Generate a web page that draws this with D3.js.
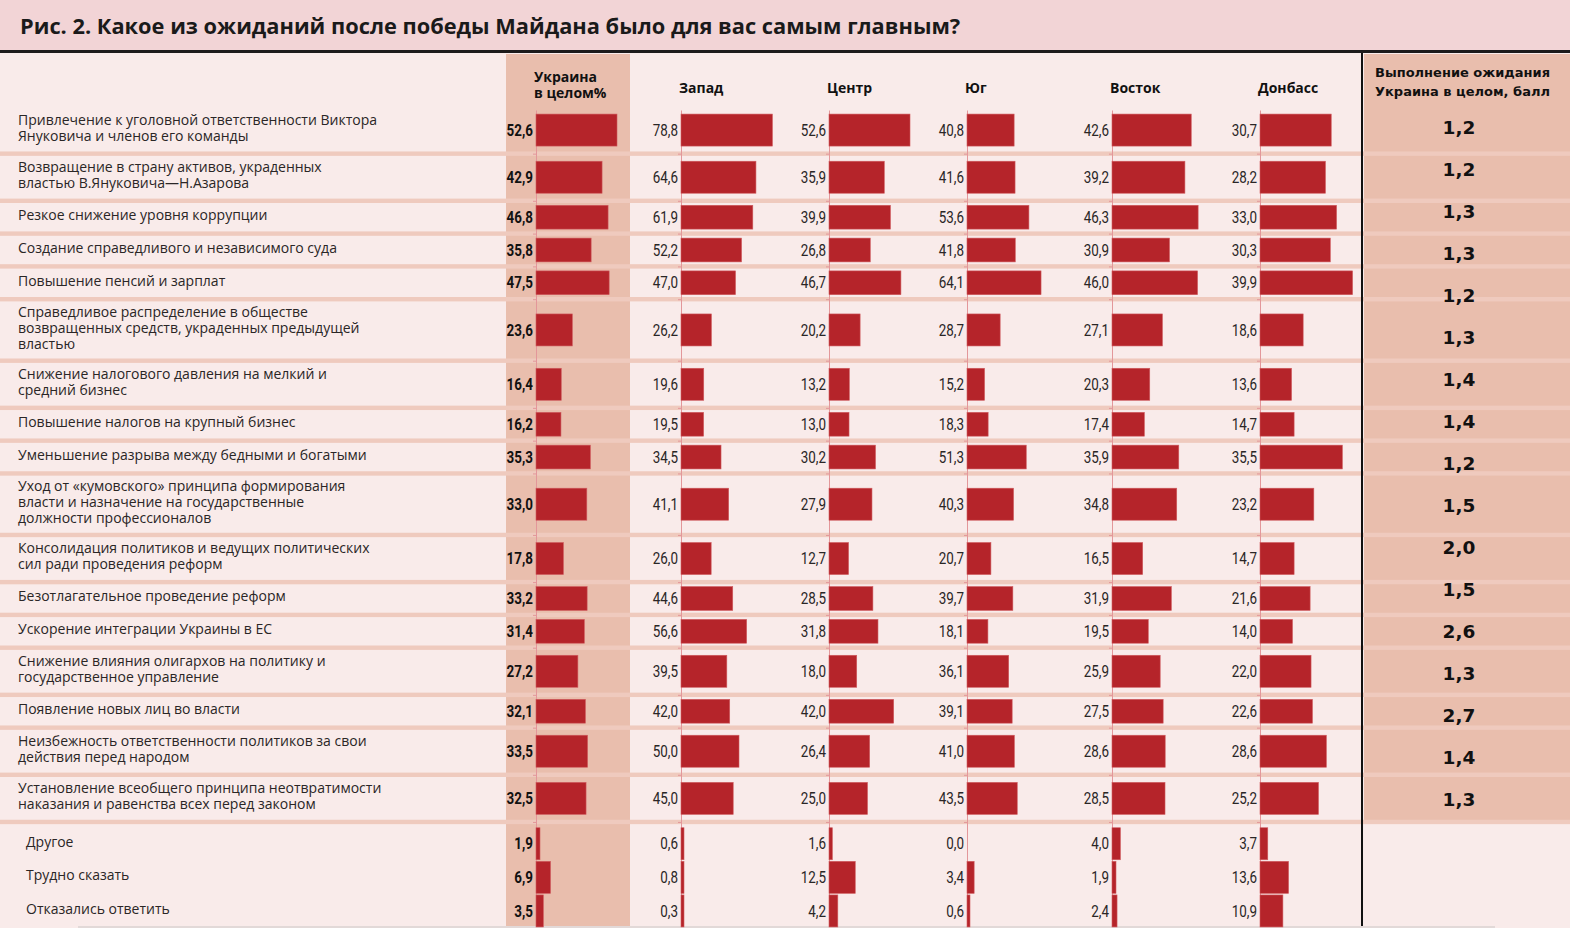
<!DOCTYPE html>
<html>
<head>
<meta charset="utf-8">
<script src="https://cdn.jsdelivr.net/npm/d3@7"></script>
<style>
  html, body { margin:0; padding:0; background:#f9ebea; }
  svg { display:block; }
  .title { font-family:"Open Sans", sans-serif; font-weight:700; font-size:21.8px; fill:#1a1a1a; }
  .lbl { font-family:"Open Sans", sans-serif; font-size:14px; fill:#2a2626; }
  .num { font-family:Roboto, "DejaVu Sans Condensed", sans-serif; font-size:16px; fill:#2a2626; }
  .num.bold { font-weight:700; fill:#111; }
  .head { font-family:"Open Sans", sans-serif; font-weight:700; font-size:14px; fill:#111; }
  .rhead { font-family:"DejaVu Sans", sans-serif; font-weight:700; font-size:13px; fill:#111; }
  .score { font-family:"DejaVu Sans", sans-serif; font-weight:700; font-size:18.5px; fill:#111; }
  .zero path { stroke:#e3979a; }
  .zero line { stroke:#e3979a; }
</style>
</head>
<body>
<div id="chart"></div>
<script>

var title = "Рис. 2. Какое из ожиданий после победы Майдана было для вас самым главным?";

// answers, one entry per row, split into the lines as printed
var answers = [
  ["Привлечение к уголовной ответственности Виктора", "Януковича и членов его команды"],
  ["Возвращение в страну активов, украденных", "властью В.Януковича—Н.Азарова"],
  ["Резкое снижение уровня коррупции"],
  ["Создание справедливого и независимого суда"],
  ["Повышение пенсий и зарплат"],
  ["Справедливое распределение в обществе", "возвращенных средств, украденных предыдущей", "властью"],
  ["Снижение налогового давления на мелкий и", "средний бизнес"],
  ["Повышение налогов на крупный бизнес"],
  ["Уменьшение разрыва между бедными и богатыми"],
  ["Уход от «кумовского» принципа формирования", "власти и назначение на государственные", "должности профессионалов"],
  ["Консолидация политиков и ведущих политических", "сил ради проведения реформ"],
  ["Безотлагательное проведение реформ"],
  ["Ускорение интеграции Украины в ЕС"],
  ["Снижение влияния олигархов на политику и", "государственное управление"],
  ["Появление новых лиц во власти"],
  ["Неизбежность ответственности политиков за свои", "действия перед народом"],
  ["Установление всеобщего принципа неотвратимости", "наказания и равенства всех перед законом"]
];
var otherAnswers = ["Другое", "Трудно сказать", "Отказались ответить"];

// % by region: 17 answers, then the 3 other answers
var ukraine = [52.6, 42.9, 46.8, 35.8, 47.5, 23.6, 16.4, 16.2, 35.3, 33.0, 17.8, 33.2, 31.4, 27.2, 32.1, 33.5, 32.5, 1.9, 6.9, 3.5];
var zapad   = [78.8, 64.6, 61.9, 52.2, 47.0, 26.2, 19.6, 19.5, 34.5, 41.1, 26.0, 44.6, 56.6, 39.5, 42.0, 50.0, 45.0, 0.6, 0.8, 0.3];
var centr   = [52.6, 35.9, 39.9, 26.8, 46.7, 20.2, 13.2, 13.0, 30.2, 27.9, 12.7, 28.5, 31.8, 18.0, 42.0, 26.4, 25.0, 1.6, 12.5, 4.2];
var yug     = [40.8, 41.6, 53.6, 41.8, 64.1, 28.7, 15.2, 18.3, 51.3, 40.3, 20.7, 39.7, 18.1, 36.1, 39.1, 41.0, 43.5, 0.0, 3.4, 0.6];
var vostok  = [42.6, 39.2, 46.3, 30.9, 46.0, 27.1, 20.3, 17.4, 35.9, 34.8, 16.5, 31.9, 19.5, 25.9, 27.5, 28.6, 28.5, 4.0, 1.9, 2.4];
var donbass = [30.7, 28.2, 33.0, 30.3, 39.9, 18.6, 13.6, 14.7, 35.5, 23.2, 14.7, 21.6, 14.0, 22.0, 22.6, 28.6, 25.2, 3.7, 13.6, 10.9];

// fulfilment score, Ukraine overall
var scoreHead = ["Выполнение ожидания", "Украина в целом, балл"];
var score = [1.2, 1.2, 1.3, 1.3, 1.2, 1.3, 1.4, 1.4, 1.2, 1.5, 2.0, 1.5, 2.6, 1.3, 2.7, 1.4, 1.3];

var W = 1570, H = 928;
var ru = d3.formatLocale({decimal: ",", thousands: " ", grouping: [3], currency: ["", ""]});
var fmt = ru.format(".1f");

var columns = [
  {name: ["Украина", "в целом%"], values: ukraine, x: 536, k: 1.54, bold: true},
  {name: ["Запад"], values: zapad, x: 681, k: 1.16},
  {name: ["Центр"], values: centr, x: 829, k: 1.54},
  {name: ["Юг"], values: yug, x: 967, k: 1.155},
  {name: ["Восток"], values: vostok, x: 1112, k: 1.86},
  {name: ["Донбасс"], values: donbass, x: 1260, k: 2.32}
];

// row layout: height grows with the number of text lines
var rows = [];
var rowTop = 106.5;
answers.forEach(function(a, i){
  var h = 18.45 + 14.35 * a.length;
  rows.push({label: a, top: rowTop, h: h, i: i, other: false});
  rowTop += h;
});
var mainEnd = rowTop;
otherAnswers.forEach(function(a, j){
  rows.push({label: [a], top: mainEnd + 5 + j * 33.6, h: 33.6, i: answers.length + j, other: true});
});
rows.forEach(function(r){
  r.cy = r.top + r.h / 2;
  r.bh = r.other ? 32 : Math.min(32, r.h - 9);
});

var svg = d3.select("#chart").append("svg")
  .attr("width", W)
  .attr("height", H);

// backgrounds
svg.append("rect").attr("x", 0).attr("y", 0).attr("width", W).attr("height", H).attr("fill", "#f9ebea");
svg.append("rect").attr("x", 0).attr("y", 0).attr("width", W).attr("height", 50).attr("fill", "#f2d4d6");
svg.append("rect").attr("x", 506).attr("y", 54).attr("width", 124).attr("height", H - 54).attr("fill", "#e9bead");
svg.append("rect").attr("x", 1364).attr("y", 54).attr("width", W - 1364).attr("height", mainEnd - 54).attr("fill", "#e9bead");

// row separators
svg.append("g").selectAll("rect")
  .data(rows.filter(function(r){ return !r.other; }))
  .enter().append("rect")
    .attr("x", 0)
    .attr("y", function(r){ return r.top + r.h - 2.2; })
    .attr("width", W)
    .attr("height", 4.4)
    .attr("fill", "#efcabe");

// title
svg.append("rect").attr("x", 0).attr("y", 50).attr("width", W).attr("height", 3).attr("fill", "#1d1b1b");
svg.append("text").attr("class", "title").attr("x", 20).attr("y", 34).text(title);
svg.append("rect").attr("x", 1361).attr("y", 53).attr("width", 2).attr("height", H - 53).attr("fill", "#111");
svg.append("rect").attr("x", 78).attr("y", 926).attr("width", 1417).attr("height", 2).attr("fill", "#e2d9d8");

// answer labels
var lbl = svg.append("g").selectAll("text")
  .data(rows)
  .enter().append("text")
    .attr("class", "lbl")
    .attr("x", function(r){ return r.other ? 26 : 18; })
    .attr("y", function(r){ return r.cy - 2 - (r.label.length - 1) * 8; });
lbl.selectAll("tspan")
  .data(function(r){ return r.label; })
  .enter().append("tspan")
    .attr("x", function(){ return this.parentNode.getAttribute("x"); })
    .attr("dy", function(d, i){ return i === 0 ? "0.35em" : "16px"; })
    .text(function(d){ return d; });

// zero lines with small ticks at row separators
var ySep = d3.scaleLinear().domain([110, 926]).range([110, 926]);
var sepYs = rows.filter(function(r){ return !r.other; }).map(function(r){ return r.top + r.h; });

columns.forEach(function(col){
  var x = d3.scaleLinear().domain([0, 10]).range([col.x, col.x + col.k * 10]);
  var xo = d3.scaleLinear().domain([0, 10]).range([col.x, col.x + 21]);
  var g = svg.append("g");

  g.append("g")
    .attr("class", "zero")
    .attr("transform", "translate(" + col.x + ",0)")
    .call(d3.axisLeft(ySep).tickValues(sepYs).tickSize(3).tickSizeOuter(0).tickFormat(""));

  // header
  var ht = g.append("text").attr("class", "head");
  col.name.forEach(function(n, i){
    ht.append("tspan")
      .attr("x", col.x - 2)
      .attr("y", col.name.length > 1 ? 81.5 + i * 16 : 93)
      .text(n);
  });

  g.selectAll("rect.bar")
    .data(rows)
    .enter().append("rect")
      .attr("class", "bar")
      .attr("x", col.x)
      .attr("y", function(r){ return r.cy - r.bh / 2; })
      .attr("width", function(r){
        var v = col.values[r.i];
        var w = (r.other ? xo(v) : x(v)) - col.x;
        return v > 0 ? Math.max(w, 3) : 0;
      })
      .attr("height", function(r){ return r.bh; })
      .attr("fill", "#b5242a")
      .attr("stroke", "#cf5a5e")
      .attr("stroke-width", 0.6);

  // narrow figures: squeeze horizontally around the right edge
  g.selectAll("text.val")
    .data(rows)
    .enter().append("text")
      .attr("class", col.bold ? "num bold" : "num")
      .attr("transform", function(r){
        return "translate(" + (col.x - 3) + "," + r.cy + ") scale(0.84,1)";
      })
      .attr("dy", "0.35em")
      .attr("text-anchor", "end")
      .text(function(r){ return fmt(col.values[r.i]); });
});

// fulfilment score column
var rh = svg.append("text").attr("class", "rhead");
scoreHead.forEach(function(s, i){
  rh.append("tspan").attr("x", 1375).attr("y", 77 + i * 18.5).text(s);
});
var ys = d3.scalePoint().domain(d3.range(score.length)).range([128, 800]);
svg.append("g").selectAll("text")
  .data(score)
  .enter().append("text")
    .attr("class", "score")
    .attr("x", 1459)
    .attr("y", function(d, i){ return ys(i); })
    .attr("dy", "0.35em")
    .attr("text-anchor", "middle")
    .text(function(d){ return fmt(d); });

</script>
</body>
</html>
